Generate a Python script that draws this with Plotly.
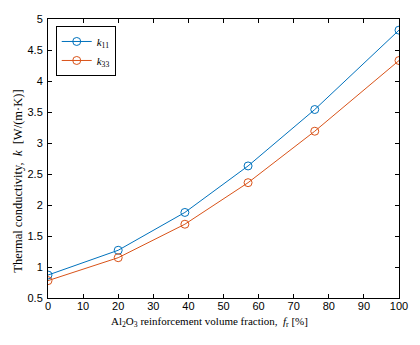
import plotly.graph_objects as go

fraction = [0, 20, 39, 57, 76, 100]
k11 = [0.87, 1.27, 1.88, 2.63, 3.54, 4.82]
k33 = [0.78, 1.15, 1.69, 2.36, 3.19, 4.33]
x_ticks = list(range(0, 101, 10))
y_ticks = [0.5, 1, 1.5, 2, 2.5, 3, 3.5, 4, 4.5, 5]
y_tick_labels = ["0.5", "1", "1.5", "2", "2.5", "3", "3.5", "4", "4.5", "5"]

blue = "#0072BD"
orange = "#D95319"
serif = "Liberation Serif, Times New Roman, serif"

fig = go.Figure()
fig.add_trace(go.Scatter(x=fraction, y=k11, mode="lines+markers",
                         name="<i>k</i><sub>11</sub>",
                         line=dict(color=blue, width=1),
                         marker=dict(symbol="circle-open", size=8, color=blue, line=dict(width=1))))
fig.add_trace(go.Scatter(x=fraction, y=k33, mode="lines+markers",
                         name="<i>k</i><sub>33</sub>",
                         line=dict(color=orange, width=1),
                         marker=dict(symbol="circle-open", size=8, color=orange, line=dict(width=1))))

axis_common = dict(showline=True, linecolor="black", linewidth=1, mirror="ticks",
                   ticks="inside", ticklen=4, tickcolor="black", showgrid=False,
                   zeroline=False,
                   tickfont=dict(family="Liberation Sans, Arial", size=11, color="black"))

fig.update_xaxes(range=[0, 100], tickvals=x_ticks, ticklabelstandoff=-2, **axis_common)
fig.update_yaxes(range=[0.5, 5], tickvals=y_ticks, ticktext=y_tick_labels,
                 ticklabelstandoff=2, **axis_common)

fig.add_annotation(text="Al<sub>2</sub>O<sub>3</sub> reinforcement volume fraction,  <i>f</i><sub>r</sub> [%]",
                   xref="paper", yref="paper", x=0.459, y=-0.086,
                   xanchor="center", yanchor="middle", showarrow=False,
                   font=dict(family=serif, size=11, color="black"))
fig.add_annotation(text="Thermal conductivity,  <i>k</i>  [W/(m·K)]",
                   xref="paper", yref="paper", x=-0.086, y=0.42,
                   xanchor="center", yanchor="middle", showarrow=False, textangle=-90,
                   font=dict(family=serif, size=12.5, color="black"))

fig.update_layout(width=420, height=345,
                  margin=dict(l=48, r=16, t=19, b=47),
                  paper_bgcolor="white", plot_bgcolor="white",
                  showlegend=True,
                  legend=dict(x=0.022, y=0.975, xanchor="left", yanchor="top",
                              bgcolor="white", bordercolor="black", borderwidth=1,
                              font=dict(family=serif, size=11, color="black"),
                              itemwidth=30, tracegroupgap=0))

fig.write_html("out.html")
